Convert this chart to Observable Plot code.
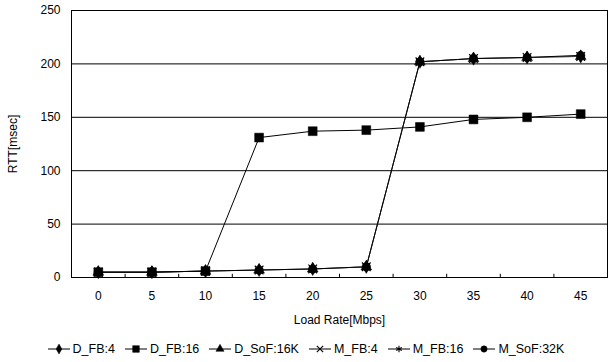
<!DOCTYPE html>
<html><head><meta charset="utf-8">
<script src="https://cdn.jsdelivr.net/npm/d3@7"></script>
<script src="https://cdn.jsdelivr.net/npm/@observablehq/plot@0.6"></script>
<style>
body{margin:0;background:#fff;font-family:"Liberation Sans",Arial,sans-serif;}
#legend{display:flex;justify-content:center;gap:9px;font-size:12.5px;color:#000;margin-top:8px;}
#legend span{display:inline-flex;align-items:center;gap:2px;}
</style>
</head><body>
<div id="chart"></div>
<div id="legend"></div>
<script>
const loadRate = [0,5,10,15,20,25,30,35,40,45];
const seriesNames = ["D_FB:4","D_FB:16","D_SoF:16K","M_FB:4","M_FB:16","M_SoF:32K"];
const D_FB4   = [5,5,6,7,8,10,202,205,206,207];
const D_FB16  = [5,5,6,131,137,138,141,148,150,153];
const D_SoF16K= [5,5,6,7,8,10,202,205,206,207];
const M_FB4   = [5,5,6,7,8,10,202,205,206,207];
const M_FB16  = [5,5,6,7,8,10,202,205,206,207];
const M_SoF32K= [5,5,6,7,8,10,202,205,206,208];
const yTicks = [0,50,100,150,200,250];
const xBoundaries = [2.5,7.5,12.5,17.5,22.5,27.5,32.5,37.5,42.5];

const seriesVals = [D_FB4,D_FB16,D_SoF16K,M_FB4,M_FB16,M_SoF32K];
const symbols = ["diamond","square","triangle","times","asterisk","circle"];
const d3Symbols = {diamond:d3.symbolDiamond,square:d3.symbolSquare,triangle:d3.symbolTriangle,times:d3.symbolTimes,asterisk:d3.symbolAsterisk,circle:d3.symbolCircle};
const radii = [4,5,4,4,4,4.2];
const filled = [true,true,true,false,false,true];
const data = [];
seriesNames.forEach((s,i)=>loadRate.forEach((x,j)=>data.push({series:s,x,y:seriesVals[i][j]})));

const chart = Plot.plot({
  width:611, height:334,
  marginLeft:71, marginRight:4, marginTop:10, marginBottom:57,
  style:{fontFamily:"'Liberation Sans',Arial,sans-serif",fontSize:"12px",color:"#000",background:"#fff"},
  x:{domain:[-2.5,47.5]},
  y:{domain:[0,250]},
  marks:[
    Plot.gridY(yTicks.filter(d=>d>0),{stroke:"#000",strokeOpacity:1,strokeWidth:1}),
    Plot.frame({stroke:"#000",strokeWidth:1}),
    Plot.axisY(yTicks,{tickSize:0,tickPadding:11,fontSize:12,label:"RTT[msec]",labelAnchor:"center",labelArrow:"none",labelOffset:63}),
    Plot.axisX(loadRate,{tickSize:0,tickPadding:14,fontSize:12,label:"Load Rate[Mbps]",labelAnchor:"center",labelArrow:"none",labelOffset:46}),
    Plot.ruleX(xBoundaries,{x:d=>d,y1:0,y2:3,stroke:"#000"}),
    ...seriesNames.map((s,i)=>Plot.line(data.filter(d=>d.series===s),{x:"x",y:"y",stroke:"#000",strokeWidth:i===1||i===5?1:0.3})),
    ...symbols.map((sym,i)=>Plot.dot(data.filter(d=>d.series===seriesNames[i]),{x:"x",y:"y",symbol:()=>sym,r:radii[i],fill:filled[i]?"#000":"none",stroke:"#000",strokeWidth:filled[i]?0.5:1.2}))
  ]
});
document.getElementById("chart").appendChild(chart);

// legend
const leg = document.getElementById("legend");
seriesNames.forEach((s,i)=>{
  const sp = document.createElement("span");
  const svg = d3.create("svg").attr("width",24).attr("height",12);
  svg.append("line").attr("x1",1).attr("x2",23).attr("y1",6).attr("y2",6).attr("stroke","#000");
  svg.append("path").attr("transform","translate(12,6)")
    .attr("d",d3.symbol(d3Symbols[symbols[i]], Math.PI*(radii[i]*0.75)**2)())
    .attr("fill",filled[i]?"#000":"none").attr("stroke","#000").attr("stroke-width",filled[i]?0.5:1.1);
  sp.appendChild(svg.node());
  const t=document.createElement("span"); t.textContent=s; sp.appendChild(t);
  leg.appendChild(sp);
});
</script>
</body></html>
